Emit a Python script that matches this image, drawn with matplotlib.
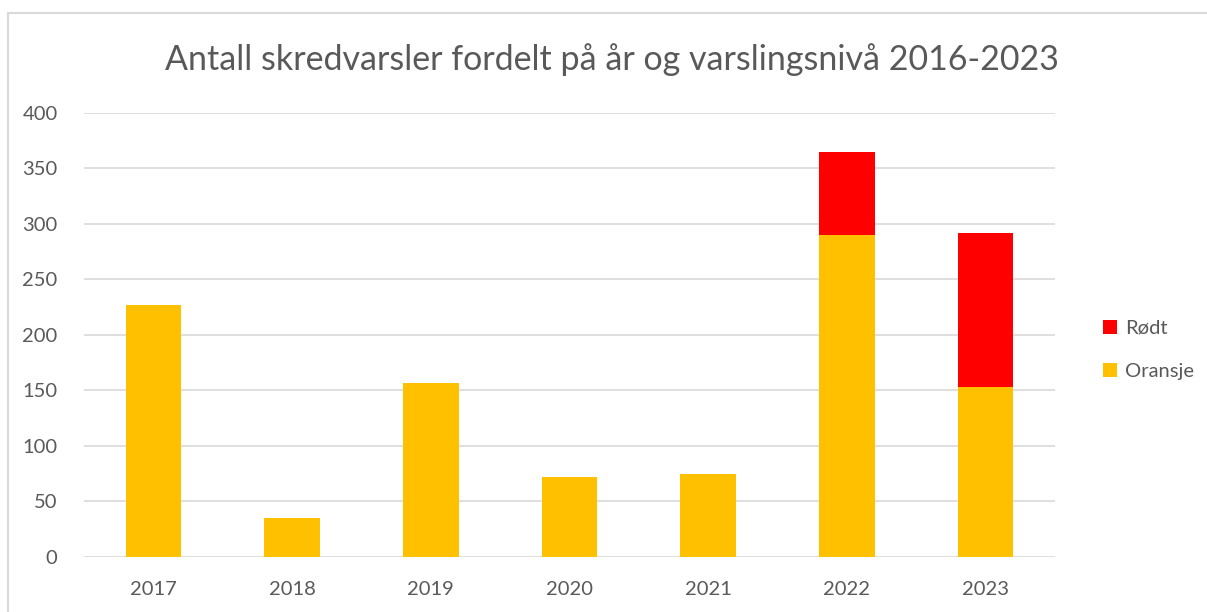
import matplotlib.pyplot as plt
from matplotlib.patches import Rectangle
import numpy as np

years = ['2017', '2018', '2019', '2020', '2021', '2022', '2023']
oransje = [227, 35, 157, 72, 75, 290, 153]
rodt = [0, 0, 0, 0, 0, 75, 139]

plt.rcParams['font.family'] = ['Lato', 'DejaVu Sans']
grey = '#595959'

fig = plt.figure(figsize=(12.07, 6.12), dpi=100)
ax = fig.add_axes([0.0696, 0.0899, 0.8045, 0.7255])

x = np.arange(len(years))
ax.bar(x, oransje, width=0.4, color='#FFC000', label='Oransje', zorder=3)
ax.bar(x, rodt, width=0.4, bottom=oransje, color='#FF0000', label='Rødt', zorder=3)

ax.set_xlim(-0.5, len(years) - 0.5)
ax.set_ylim(0, 400)
ax.set_yticks(range(0, 401, 50))
ax.set_xticks(x)
ax.set_xticklabels(years)
ax.tick_params(length=0, labelsize=14.5, colors=grey)
ax.tick_params(axis='x', pad=17)
ax.tick_params(axis='y', pad=19)
ax.grid(axis='y', color='#d9d9d9', linewidth=1.2, zorder=0)
for s in ax.spines.values():
    s.set_visible(False)

fig.text(0.507, 0.902, 'Antall skredvarsler fordelt på år og varslingsnivå 2016-2023',
         ha='center', va='center', fontsize=24.5, color=grey)

h, l = ax.get_legend_handles_labels()
leg = fig.legend(h[::-1], l[::-1], loc='center left', bbox_to_anchor=(0.899, 0.428),
                 frameon=False, fontsize=14.5, handlelength=0.7, handleheight=0.7,
                 handletextpad=0.4, labelspacing=1.3, labelcolor=grey)

fig.patches.append(Rectangle((8 / 1207, -0.1), 1.2, (612 - 13) / 612 + 0.1,
                             transform=fig.transFigure, fill=False,
                             edgecolor='#d9d9d9', linewidth=1.5))

fig.savefig('out.png', dpi=100)
